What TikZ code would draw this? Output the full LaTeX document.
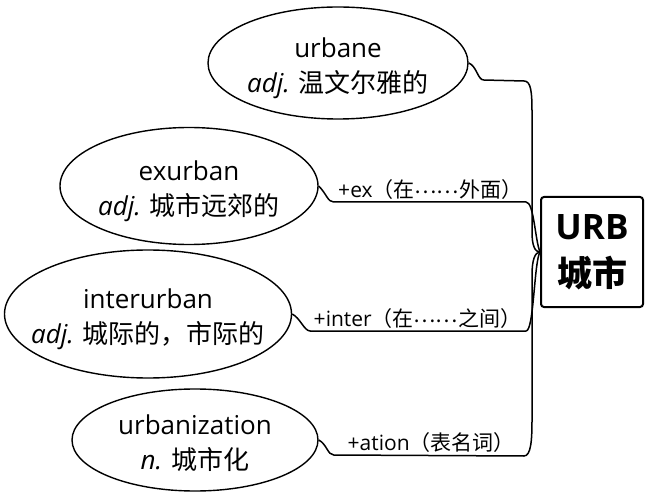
\documentclass[tikz,border=0pt]{standalone}
\usepackage{fontspec}
\setmainfont{Open Sans}
\newfontfamily\cjk{Noto Sans CJK SC}
\usetikzlibrary{shapes.geometric}
% two centred lines that do not widen the ellipse
\newcommand{\wordtext}[2]{\raisebox{-11pt}[0pt][0pt]{\makebox[0pt]{\begin{tabular}{@{}c@{}}#1\\#2\end{tabular}}}}
\newcommand{\middots}{\raisebox{.2em}{……}}

\begin{document}
\begin{tikzpicture}[x=1pt,y=-1pt, every node/.style={font=\fontsize{26}{35}\selectfont}]
    \tikzstyle{word}=[ellipse,draw,line width=1.4pt,inner sep=0pt]
    \tikzstyle{root}=[draw,line width=2pt,rounded corners=3pt,align=center,inner sep=0pt,minimum width=102pt,minimum height=110pt,font=\fontsize{35}{47}\selectfont\bfseries]
    \tikzstyle{link}=[line width=1.5pt]
    \tikzstyle{affix}=[font=\fontsize{21}{24}\selectfont,above=1pt,inner sep=1pt,xshift=8pt]
    \useasboundingbox (0,0) rectangle (645,494);
    \node[root] (urb) at (592,252) {URB\\{\cjk 城市}};
    \node[word,minimum width=260pt,minimum height=112pt] (urbane) at (338,63) {\wordtext{urbane}{{\itshape adj.} {\cjk 温文尔雅的}}};
    \node[word,minimum width=258pt,minimum height=117pt] (exurban) at (189,186) {\wordtext{exurban}{{\itshape adj.} {\cjk 城市远郊的}}};
    \node[word,minimum width=287pt,minimum height=128pt] (interurban) at (148,314) {\wordtext{interurban}{{\itshape adj.} {\cjk 城际的，市际的}}};
    \node[word,minimum width=246pt,minimum height=102pt] (urbanization) at (195,440) {\wordtext{urbanization}{{\itshape n.} {\cjk 城市化}}};
    \draw[link] (urbane.east) .. controls +(8,3) and +(-6,0) .. ++(15,17) -- (524,81) .. controls (531,81) and (532,92) .. (532,112) -- (532,232) .. controls (532,246) and (535,252) .. (urb.west);
    \draw[link] (exurban.east) .. controls +(8,8) and +(-6,0) .. ++(15,16) -- node[affix,pos=.46]{+ex{\cjk （在\middots 外面）}} (526,202) .. controls (534,202) and (535,240) .. (urb.west);
    \draw[link] (interurban.east) .. controls +(8,4) and +(-6,0) .. ++(18,17) -- node[affix,pos=.46]{+inter{\cjk （在\middots 之间）}} (526,331) .. controls (534,331) and (534,262) .. (urb.west);
    \draw[link] (urbanization.east) .. controls +(8,4) and +(-6,0) .. ++(15,15) -- node[affix,pos=.47]{+ation{\cjk （表名词）}} (524,456) .. controls (531,456) and (532,440) .. (532,420) -- (532,275) .. controls (532,260) and (535,252) .. (urb.west);
\end{tikzpicture}
\end{document}
